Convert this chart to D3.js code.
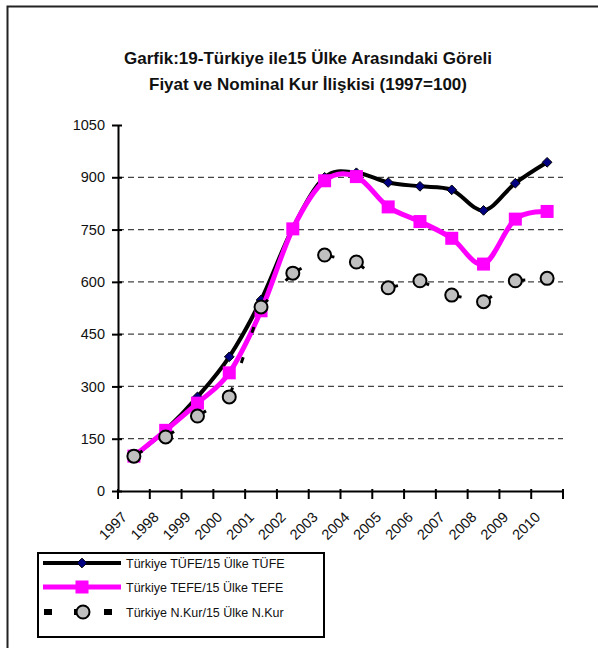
<!DOCTYPE html>
<html>
<head>
<meta charset="utf-8">
<script src="https://cdn.jsdelivr.net/npm/d3@7"></script>
<style>
  body { margin: 0; background: #fff; }
  svg { display: block; font-family: "Liberation Sans", Arial, sans-serif; }
</style>
</head>
<body>
<div id="chart"></div>
<script>
// data (1997 = 100)
const years = ["1997","1998","1999","2000","2001","2002","2003","2004","2005","2006","2007","2008","2009","2010"];
const tufe  = [100, 175, 270, 385, 548, 755, 900, 913, 885, 874, 864, 805, 883, 943];
const tefe  = [100, 174, 252, 339, 517, 752, 890, 902, 815, 773, 725, 651, 780, 802];
const nkur  = [100, 155, 215, 270, 528, 625, 677, 657, 583, 603, 562, 543, 603, 610];
const yTicks = [0, 150, 300, 450, 600, 750, 900, 1050];
const seriesNames = ["Türkiye TÜFE/15 Ülke TÜFE", "Türkiye TEFE/15 Ülke TEFE", "Türkiye N.Kur/15 Ülke N.Kur"];

const width = 598, height = 648;
const margin = {top: 125, right: 35, bottom: 157, left: 118};

const svg = d3.select("#chart").append("svg")
  .attr("width", width)
  .attr("height", height);

// outer frame (runs off right/bottom edge like the reference)
svg.append("rect")
  .attr("x", 7.5).attr("y", 6.5)
  .attr("width", 620).attr("height", 670)
  .attr("fill", "none").attr("stroke", "#222").attr("stroke-width", 2);

// title
const title = svg.append("text")
  .attr("text-anchor", "middle")
  .style("font-weight", "bold")
  .style("font-size", "17px")
  .attr("fill", "#111");
title.append("tspan").attr("x", 308).attr("y", 64).text("Garfik:19-Türkiye ile15 Ülke  Arasındaki Göreli");
title.append("tspan").attr("x", 308).attr("y", 90).text("Fiyat ve Nominal Kur İlişkisi (1997=100)");

const g = svg.append("g").attr("transform", `translate(${margin.left},${margin.top})`);
const w = width - margin.left - margin.right;
const h = height - margin.top - margin.bottom;

const x = d3.scaleBand().domain(years).range([0, w]);
const y = d3.scaleLinear().domain([0, 1050]).range([h, 0]);
const cx = d => x(d) + x.bandwidth() / 2;

// dashed gridlines
g.append("g").selectAll("line")
  .data(yTicks.filter(t => t > 0 && t < 1050))
  .join("line")
  .attr("x1", 0).attr("x2", w)
  .attr("y1", d => y(d)).attr("y2", d => y(d))
  .attr("stroke", "#444").attr("stroke-width", 1.2)
  .attr("stroke-dasharray", "6,4");

// y axis
const yAxis = g.append("g")
  .call(d3.axisLeft(y).tickValues(yTicks).tickFormat(d3.format("d"))
    .tickSizeInner(6).tickSizeOuter(0).tickPadding(7));
yAxis.select(".domain").attr("stroke", "#000").attr("stroke-width", 2);
yAxis.selectAll(".tick line").attr("stroke", "#000").attr("stroke-width", 2).attr("x2", -6).attr("x1", 4);
yAxis.selectAll(".tick text").style("font-size", "14.5px").attr("fill", "#111");

// x axis: ticks on category boundaries, labels under the centres
const xAxis = g.append("g").attr("transform", `translate(0,${h})`)
  .call(d3.axisBottom(x).tickSize(0).tickSizeOuter(0));
xAxis.select(".domain").attr("stroke", "#000").attr("stroke-width", 2);
xAxis.selectAll(".tick text")
  .attr("text-anchor", "end")
  .attr("dy", null).attr("y", null)
  .attr("transform", "translate(-6,27) rotate(-45)")
  .style("font-size", "14.5px").attr("fill", "#111");
xAxis.append("g").selectAll("line")
  .data(d3.range(years.length + 1))
  .join("line")
  .attr("x1", i => i * x.step()).attr("x2", i => i * x.step())
  .attr("y1", -2).attr("y2", 8)
  .attr("stroke", "#000").attr("stroke-width", 2);

const smooth = d3.line().curve(d3.curveCardinal.tension(0));

// TÜFE series
const ptsTufe = years.map((yr, i) => [cx(yr), y(tufe[i])]);
g.append("path").attr("d", smooth(ptsTufe))
  .attr("fill", "none").attr("stroke", "#000").attr("stroke-width", 4);
g.append("g").selectAll("path")
  .data(ptsTufe).join("path")
  .attr("d", d3.symbol(d3.symbolDiamond2, 60))
  .attr("transform", d => `translate(${d[0]},${d[1]})`)
  .attr("fill", "#000080").attr("stroke", "#000").attr("stroke-width", 1);

// TEFE series
const ptsTefe = years.map((yr, i) => [cx(yr), y(tefe[i])]);
g.append("path").attr("d", smooth(ptsTefe))
  .attr("fill", "none").attr("stroke", "#ff00ff").attr("stroke-width", 5);
g.append("g").selectAll("rect")
  .data(ptsTefe).join("rect")
  .attr("x", d => d[0] - 6.5).attr("y", d => d[1] - 6.5)
  .attr("width", 13).attr("height", 13)
  .attr("fill", "#ff00ff");

// N.Kur series: sparse long dashes per segment, mostly hidden by markers
const ptsKur = years.map((yr, i) => [cx(yr), y(nkur[i])]);
g.append("g").selectAll("path")
  .data(d3.pairs(ptsKur)).join("path")
  .attr("d", d => d3.line()(d))
  .attr("fill", "none").attr("stroke", "#000").attr("stroke-width", 3)
  .attr("stroke-dasharray", "0,4,6,22");
g.append("g").selectAll("circle")
  .data(ptsKur).join("circle")
  .attr("cx", d => d[0]).attr("cy", d => d[1]).attr("r", 6.5)
  .attr("fill", "#c0c0c0").attr("stroke", "#000").attr("stroke-width", 2);

// legend
const lg = svg.append("g");
lg.append("rect")
  .attr("x", 38).attr("y", 553).attr("width", 286).attr("height", 84)
  .attr("fill", "#fff").attr("stroke", "#000").attr("stroke-width", 2);
const rowY = [563, 587, 612];
// row 1
lg.append("line").attr("x1", 43).attr("x2", 121).attr("y1", rowY[0]).attr("y2", rowY[0])
  .attr("stroke", "#000").attr("stroke-width", 4);
lg.append("path").attr("d", d3.symbol(d3.symbolDiamond2, 60))
  .attr("transform", `translate(82,${rowY[0]})`)
  .attr("fill", "#000080").attr("stroke", "#000").attr("stroke-width", 1);
// row 2
lg.append("line").attr("x1", 43).attr("x2", 121).attr("y1", rowY[1]).attr("y2", rowY[1])
  .attr("stroke", "#ff00ff").attr("stroke-width", 5);
lg.append("rect").attr("x", 75.5).attr("y", rowY[1] - 6.5).attr("width", 13).attr("height", 13)
  .attr("fill", "#ff00ff");
// row 3
lg.append("line").attr("x1", 44).attr("x2", 114).attr("y1", rowY[2]).attr("y2", rowY[2])
  .attr("stroke", "#000").attr("stroke-width", 6).attr("stroke-dasharray", "8,22");
lg.append("circle").attr("cx", 83).attr("cy", rowY[2]).attr("r", 6.5)
  .attr("fill", "#c0c0c0").attr("stroke", "#000").attr("stroke-width", 2);
lg.selectAll("text.lab")
  .data(seriesNames).join("text")
  .attr("class", "lab")
  .attr("x", 126).attr("y", (d, i) => rowY[i] + 4.5)
  .style("font-size", "12.5px").attr("fill", "#111")
  .text(d => d);
</script>
</body>
</html>
